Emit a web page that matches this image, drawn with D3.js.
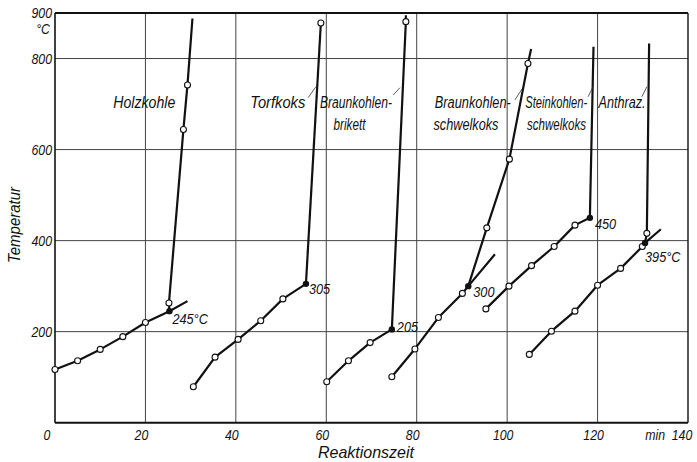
<!DOCTYPE html>
<html>
<head>
<meta charset="utf-8">
<script src="https://cdn.jsdelivr.net/npm/d3@7"></script>
<style>
  html, body { margin: 0; padding: 0; background: #fff; }
  svg { display: block; }
  text { font-family: "Liberation Sans", Arial, sans-serif; font-style: italic; fill: #111; }
</style>
</head>
<body>
<svg id="chart" width="697" height="462"></svg>
<script>
// Axis ticks
const xTicks = [0, 20, 40, 60, 80, 100, 120, 140];
const yTicks = [200, 400, 600, 800, 900];
const xGrid = [20, 40, 60, 80, 100, 120];
const yGrid = [200, 400, 600, 800];

// Holzkohle  [Reaktionszeit min, Temperatur °C]
const holzLow   = [[0, 117], [5, 136], [10, 161], [15, 189], [20, 220]];
const holzBreak = [25.3, 245];
const holzTail  = [[29.3, 267]];
const holzRise  = [[25.2, 263], [28.4, 644], [29.3, 742]];
const holzTop   = [[30.4, 888]];

// Torfkoks
const torfLow   = [[30.6, 79], [35.4, 144], [40.5, 183], [45.5, 224], [50.4, 272]];
const torfBreak = [55.5, 305];
const torfTail  = [];
const torfRise  = [[58.8, 878]];
const torfTop   = [];

// Braunkohlenbrikett
const brikLow   = [[60.1, 90], [64.9, 136], [69.7, 176]];
const brikBreak = [74.5, 205];
const brikTail  = [];
const brikRise  = [[77.6, 881]];
const brikTop   = [[77.6, 895]];

// Braunkohlenschwelkoks
const bskLow    = [[74.5, 101], [79.6, 162], [84.8, 231], [90.1, 284]];
const bskBreak  = [91.4, 300];
const bskTail   = [[97.3, 370]];
const bskRise   = [[95.5, 428], [100.5, 579], [104.6, 789]];
const bskTop    = [[105.3, 821]];

// Steinkohlenschwelkoks
const sskLow    = [[95.3, 250], [100.4, 300], [105.4, 345], [110.4, 387], [115, 434]];
const sskBreak  = [118.3, 450];
const sskTail   = [];
const sskRise   = [];
const sskTop    = [[119.1, 826]];

// Anthrazit
const anthLow   = [[104.9, 150], [109.8, 201], [115, 245], [120, 302], [125.1, 339], [129.9, 387]];
const anthBreak = [130.5, 395];
const anthTail  = [[134, 425]];
const anthRise  = [[130.9, 416]];
const anthTop   = [[131.4, 833]];

const breakLabels = ["245°C", "305", "205", "300", "450", "395°C"];

const curves = [
  { low: holzLow, brk: holzBreak, tail: holzTail, rise: holzRise, top: holzTop, label: breakLabels[0], dx: 3, dy: 9 },
  { low: torfLow, brk: torfBreak, tail: torfTail, rise: torfRise, top: torfTop, label: breakLabels[1], dx: 3, dy: 6 },
  { low: brikLow, brk: brikBreak, tail: brikTail, rise: brikRise, top: brikTop, label: breakLabels[2], dx: 5, dy: -1 },
  { low: bskLow,  brk: bskBreak,  tail: bskTail,  rise: bskRise,  top: bskTop,  label: breakLabels[3], dx: 5, dy: 7 },
  { low: sskLow,  brk: sskBreak,  tail: sskTail,  rise: sskRise,  top: sskTop,  label: breakLabels[4], dx: 5, dy: 7 },
  { low: anthLow, brk: anthBreak, tail: anthTail, rise: anthRise, top: anthTop, label: breakLabels[5], dx: 0, dy: 15 }
];

// Fuel names: text lines with their set widths (px), start minute, baseline °C, leader stroke
const fuelNames = [
  { lines: [["Holzkohle", 62]], t: 12.9, T: 692, leader: null },
  { lines: [["Torfkoks", 55]], t: 43.2, T: 692, leader: [[56.0, 714], [57.7, 738]] },
  { lines: [["Braunkohlen-", 72], ["brikett", 32]], t: 58.6, T: 692, indent: 3.0, leader: [[74.8, 720], [76.3, 736]] },
  { lines: [["Braunkohlen-", 76], ["schwelkoks", 65]], t: 84.0, T: 692, indent: -0.3, leader: [[101.7, 709], [103.3, 733]] },
  { lines: [["Steinkohlen-", 62], ["schwelkoks", 59]], t: 104.0, T: 692, indent: 0.4, leader: [[117.9, 716], [119.0, 738]] },
  { lines: [["Anthraz.", 47]], t: 120.2, T: 692, leader: [[129.8, 716], [130.9, 738]] }
];

const svg = d3.select("#chart");
const x = d3.scaleLinear().domain([0, 140]).range([55, 688]);
const y = d3.scaleLinear().domain([0, 900]).range([422.7, 13]);

// Squeeze text horizontally to a condensed lettering width
function narrow(sel, width) {
  sel.each(function () {
    const w = width != null ? width : this.getComputedTextLength() * 0.82;
    this.setAttribute("textLength", w);
    this.setAttribute("lengthAdjust", "spacingAndGlyphs");
  });
  return sel;
}

// grid
svg.append("g").selectAll("line").data(xGrid).join("line")
  .attr("x1", d => x(d)).attr("x2", d => x(d))
  .attr("y1", y(0)).attr("y2", y(900))
  .attr("stroke", "#444").attr("stroke-width", 1);
svg.append("g").selectAll("line").data(yGrid).join("line")
  .attr("x1", x(0)).attr("x2", x(140))
  .attr("y1", d => y(d)).attr("y2", d => y(d))
  .attr("stroke", "#444").attr("stroke-width", 1);

// frame
const frame = svg.append("g").attr("stroke", "#111").attr("fill", "none");
frame.append("line").attr("x1", x(0)).attr("x2", x(140)).attr("y1", y(0)).attr("y2", y(0)).attr("stroke-width", 2);
frame.append("line").attr("x1", x(0)).attr("x2", x(140)).attr("y1", y(900)).attr("y2", y(900)).attr("stroke-width", 2);
frame.append("line").attr("x1", x(0)).attr("x2", x(0)).attr("y1", y(0)).attr("y2", y(900)).attr("stroke-width", 1.6);
frame.append("line").attr("x1", x(140)).attr("x2", x(140)).attr("y1", y(0)).attr("y2", y(900)).attr("stroke-width", 1.4);

// x tick labels
svg.append("g").selectAll("text").data(xTicks).join("text")
  .attr("x", d => x(d) - (d === 0 ? 8 : d === 140 ? 6 : 4))
  .attr("y", 440)
  .attr("text-anchor", "middle")
  .attr("font-size", 15)
  .text(d => d)
  .call(narrow);
svg.append("text").attr("x", 665).attr("y", 440)
  .attr("text-anchor", "end").attr("font-size", 15).text("min").call(narrow);

// y tick labels
svg.append("g").selectAll("text").data(yTicks).join("text")
  .attr("x", 52)
  .attr("y", d => y(d) + (d === 900 ? 5 : 5.5))
  .attr("text-anchor", "end")
  .attr("font-size", 15)
  .text(d => d)
  .call(narrow);
svg.append("text").attr("x", 50).attr("y", 34).attr("text-anchor", "end")
  .attr("font-size", 15).text("°C").call(narrow);

// axis titles
svg.append("text").attr("x", 366).attr("y", 458).attr("text-anchor", "middle")
  .attr("font-size", 17).text("Reaktionszeit").call(narrow, 96);
svg.append("text").attr("transform", "translate(20,225) rotate(-90)")
  .attr("text-anchor", "middle").attr("font-size", 17).text("Temperatur").call(narrow, 76);

// curves
const line = d3.line().x(d => x(d[0])).y(d => y(d[1]));
const curveG = svg.append("g");
curves.forEach(c => {
  curveG.append("path")
    .attr("d", line([...c.low, c.brk, ...c.tail]))
    .attr("fill", "none").attr("stroke", "#111").attr("stroke-width", 2.2)
    .attr("stroke-linejoin", "round");
  curveG.append("path")
    .attr("d", line([c.brk, ...c.rise, ...c.top]))
    .attr("fill", "none").attr("stroke", "#111").attr("stroke-width", 2.2)
    .attr("stroke-linejoin", "round");
});
curves.forEach(c => {
  curveG.append("g").selectAll("circle").data([...c.low, ...c.rise]).join("circle")
    .attr("cx", d => x(d[0])).attr("cy", d => y(d[1])).attr("r", 3)
    .attr("fill", "#fff").attr("stroke", "#111").attr("stroke-width", 1.1);
  curveG.append("circle")
    .attr("cx", x(c.brk[0])).attr("cy", y(c.brk[1])).attr("r", 3.2)
    .attr("fill", "#111");
  curveG.append("text")
    .attr("x", x(c.brk[0]) + c.dx).attr("y", y(c.brk[1]) + c.dy + 4)
    .attr("font-size", 15.5).text(c.label).call(narrow);
});

// fuel names with short leader strokes
fuelNames.forEach(f => {
  f.lines.forEach(([s, w], i) => {
    svg.append("text")
      .attr("x", x(f.t + (i > 0 ? (f.indent || 0) : 0)))
      .attr("y", y(f.T) + i * 22)
      .attr("font-size", 16).text(s).call(narrow, w);
  });
  if (f.leader) {
    svg.append("line")
      .attr("x1", x(f.leader[0][0])).attr("y1", y(f.leader[0][1]))
      .attr("x2", x(f.leader[1][0])).attr("y2", y(f.leader[1][1]))
      .attr("stroke", "#333").attr("stroke-width", 0.8);
  }
});
</script>
</body>
</html>
